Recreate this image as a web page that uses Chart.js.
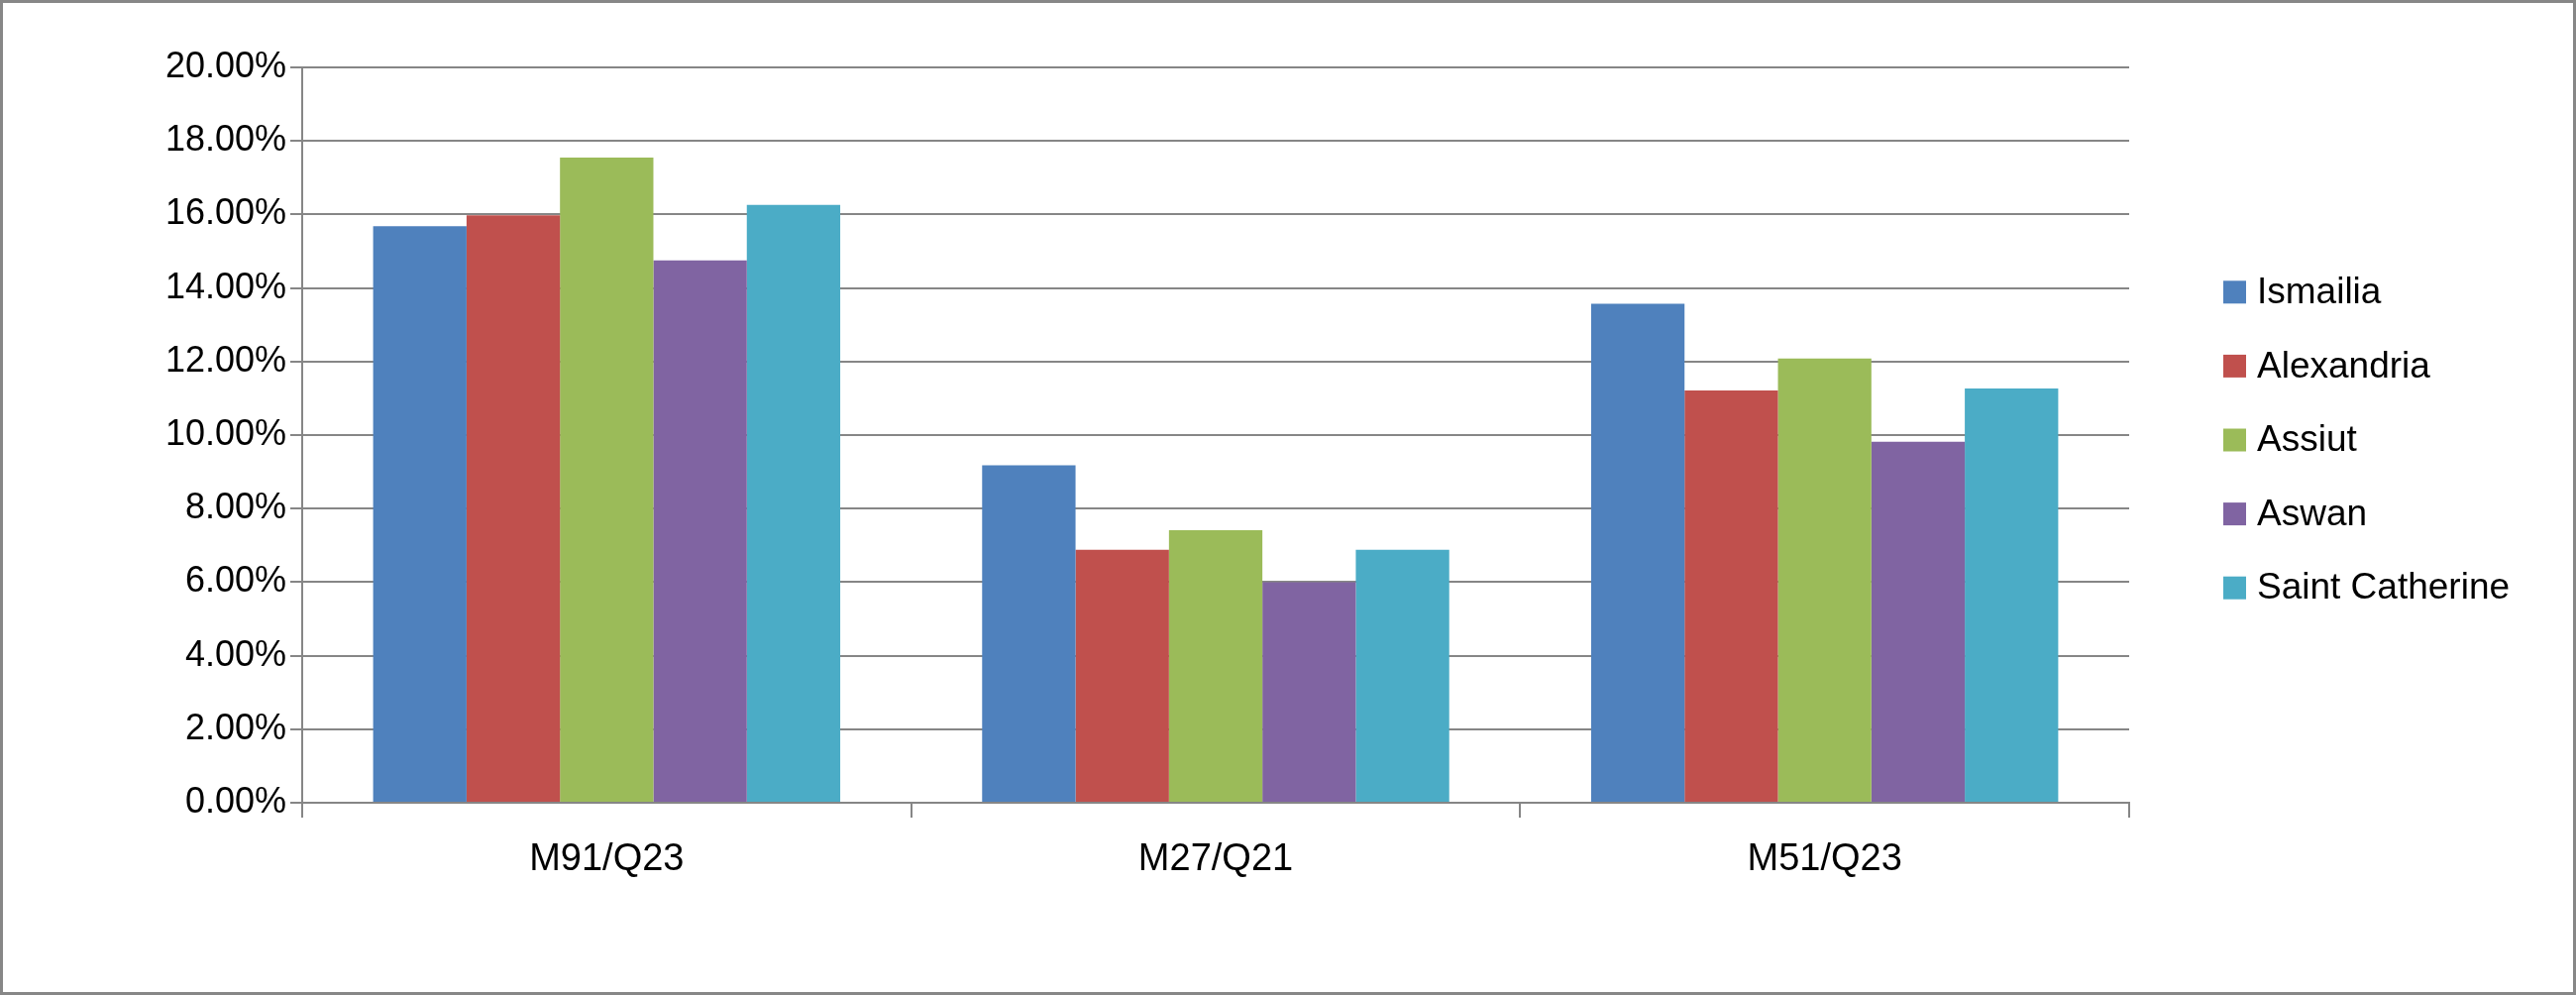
<!DOCTYPE html>
<html><head><meta charset="utf-8">
<script src="https://cdn.jsdelivr.net/npm/chart.js@4/dist/chart.umd.min.js"></script>
<style>html,body{margin:0;padding:0;background:#fff;overflow:hidden}#wrap{width:2600px;height:1004px;position:relative}canvas{display:block}</style>
</head><body><div id="wrap"><canvas id="c" width="2600" height="1004"></canvas></div>
<script>
const categories = ['M91/Q23', 'M27/Q21', 'M51/Q23'];
const seriesNames = ['Ismailia', 'Alexandria', 'Assiut', 'Aswan', 'Saint Catherine'];
const ismailia = [15.68, 9.18, 13.57];
const alexandria = [15.98, 6.88, 11.21];
const assiut = [17.55, 7.41, 12.08];
const aswan = [14.75, 6.00, 9.82];
const saintCatherine = [16.26, 6.88, 11.27];
const seriesColors = ['#4F81BD', '#C0504D', '#9BBB59', '#8064A2', '#4BACC6'];
const yMin = 0, yMax = 20, yStep = 2;

const seriesValues = [ismailia, alexandria, assiut, aswan, saintCatherine];
const FONT = '"Liberation Sans", Arial, sans-serif';
const GRID = '#868686';

const framePlugin = {
  id: 'frame',
  beforeDraw(chart) {
    const {ctx, width, height} = chart;
    ctx.save(); ctx.fillStyle = '#fff'; ctx.fillRect(0, 0, width, height); ctx.restore();
  },
  afterDraw(chart) {
    const {ctx, width, height} = chart;
    ctx.save(); ctx.strokeStyle = '#878787'; ctx.lineWidth = 3;
    ctx.strokeRect(1.5, 1.5, width - 3, height - 3); ctx.restore();
  }
};

const sideLegend = {
  id: 'sideLegend',
  afterDraw(chart) {
    const {ctx, chartArea} = chart;
    const ds = chart.data.datasets;
    const step = 74.6;
    const x0 = chartArea.right + 95;
    const cy = (chartArea.top + chartArea.bottom) / 2 + 5;
    const y0 = cy - step * (ds.length - 1) / 2;
    ctx.save();
    ctx.font = '37px ' + FONT;
    ctx.textBaseline = 'middle';
    ds.forEach((d, i) => {
      const y = y0 + i * step;
      ctx.fillStyle = d.backgroundColor;
      ctx.fillRect(x0, y - 11.5, 23, 23);
      ctx.fillStyle = '#000';
      ctx.fillText(d.label, x0 + 34, y + 1);
    });
    ctx.restore();
  }
};

new Chart(document.getElementById('c'), {
  type: 'bar',
  data: {
    labels: categories,
    datasets: seriesNames.map((n, i) => ({
      label: n,
      data: seriesValues[i],
      backgroundColor: seriesColors[i],
      borderWidth: 0,
      categoryPercentage: 0.767,
      barPercentage: 1.0
    }))
  },
  options: {
    responsive: false,
    animation: false,
    devicePixelRatio: 1,
    layout: {padding: {top: 68, right: 451, left: 0, bottom: 0}},
    plugins: {legend: {display: false}, tooltip: {enabled: false}, title: {display: false}},
    scales: {
      x: {
        grid: {offset: true, drawOnChartArea: false, drawTicks: true, tickLength: 15, color: GRID, lineWidth: 2},
        border: {display: true, color: GRID, width: 2},
        ticks: {font: {family: FONT, size: 38}, color: '#000', padding: 20, maxRotation: 0},
        afterFit(s) { s.height = 194; }
      },
      y: {
        min: yMin, max: yMax,
        ticks: {stepSize: yStep, font: {family: FONT, size: 36}, color: '#000', padding: 4,
          callback: v => v.toFixed(2) + '%'},
        grid: {color: GRID, lineWidth: 2, tickLength: 12},
        border: {display: true, color: GRID, width: 2},
        afterFit(s) { s.width = 305; }
      }
    }
  },
  plugins: [framePlugin, sideLegend]
});
</script></body></html>
